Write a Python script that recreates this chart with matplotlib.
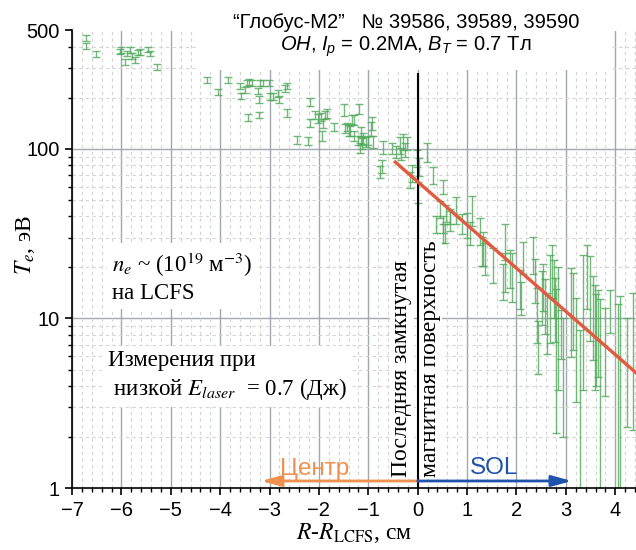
import matplotlib
matplotlib.use("Agg")
import matplotlib.pyplot as plt
from matplotlib.patches import Rectangle
from matplotlib.ticker import FixedLocator, NullFormatter, MultipleLocator

plt.rcParams["font.family"] = ["Liberation Sans", "DejaVu Sans"]
plt.rcParams["mathtext.fontset"] = "custom"
plt.rcParams["mathtext.rm"] = "Liberation Sans"
plt.rcParams["mathtext.it"] = "Liberation Sans:italic"

# Thomson scattering profile: R - R_LCFS (cm), Te (eV), error (eV)
r_cm = [-6.72, -6.72, -6.51,
        -6.03, -6.01, -5.93, -5.89, -5.83, -5.79, -5.72, -5.66, -5.62, -5.46, -5.42, -5.27,
        -4.27, -4.05, -3.85, -3.60, -3.57, -3.50, -3.45, -3.41, -3.36, -3.43, -3.21, -3.23,
        -3.21, -3.19, -3.13, -3.01, -2.99, -2.94, -2.82, -2.80, -2.69, -2.65, -2.64,
        -2.18, -2.45, -2.22, -2.18, -2.08, -2.01, -1.96, -1.91, -1.88, -1.93, -1.83, -1.70,
        -1.49, -1.47, -1.44, -1.38, -1.34, -1.30, -1.19, -1.20, -1.14, -1.17, -1.12, -1.04,
        -1.00, -1.14,
        -1.40, -1.30, -1.11, -0.94, -0.92, -0.91, -0.70, -0.73, -0.77, -0.53, -0.43, -0.36,
        -0.33, -0.29, -0.26, -0.22, -0.16, -0.12, -0.02, 0.03, 0.01, 0.18, 0.31, 0.51,
        0.45, 0.58, 0.65, 0.51, 0.38, 0.55, 0.78, 1.09, 0.99, 1.33, 1.36,
        0.52, 0.65, 0.89, 1.06, 1.26, 1.31,
        1.53, 1.73, 1.77, 1.77, 1.87, 1.91, 2.07, 2.10, 2.14, 2.34, 2.37, 2.41, 2.44, 2.51,
        2.54, 2.58, 2.61, 2.68, 2.71, 2.75, 2.78, 2.81, 2.84, 2.91, 2.94, 3.11, 3.14, 3.21,
        3.28, 3.34, 3.42, 3.48, 3.55, 3.58, 3.62, 3.65, 3.69, 3.79, 3.89, 4.05, 4.09, 4.23,
        4.36]
te_ev = [450, 405, 363,
         375, 384, 327, 367, 384, 354, 335, 372, 375, 387, 367, 306,
         255, 216, 255, 235, 205, 223, 245, 250, 246, 154, 159, 221,
         196, 246, 246, 246, 204, 205, 213, 196, 228, 235, 163,
         190, 113, 111, 143, 159, 152, 155, 142, 159, 119, 163, 135,
         171, 132, 135, 128, 150, 119, 173, 113, 113, 102, 108, 110,
         113, 126,
         129, 148, 116, 132, 142, 110, 103, 79, 73, 101, 96, 106,
         94, 110, 99, 108, 66, 72, 88, 79, 56, 96, 70, 60,
         44, 42, 40, 36, 36, 32, 44, 44, 36, 26.5, 23,
         32, 38, 36.5, 32, 33, 25.4,
         21.2, 16.9, 29, 19.3, 20.2, 18.5, 15.4, 13.5, 23.4, 24.2, 17.3, 11.2, 7.2, 14.1,
         16.1, 12.6, 10.2, 15.5, 20.2, 16.1, 12.3, 8.5, 12, 8.5, 6.0, 12.9, 12.5, 8.2,
         4.75, 13.8, 19.3, 15.4, 11.7, 9.8, 9.0, 9.6, 6.4, 7.5, 11.5, 6.0, 6.5, 6.2,
         8.2]
te_err = [18, 16, 14,
          14, 15, 13, 14, 15, 14, 13, 14, 15, 15, 14, 12,
          10, 9, 10, 9, 9, 9, 10, 10, 10, 7, 7, 9,
          9, 10, 10, 10, 10, 10, 10, 10, 10, 10, 8,
          10, 6, 6, 8, 9, 9, 9, 9, 9, 8, 10, 7,
          14, 8, 8, 8, 9, 8, 12, 7, 7, 7, 8, 7,
          7, 9,
          10, 10, 9, 12, 12, 9, 9, 7, 6, 8, 8, 12,
          8, 12, 9, 10, 7, 8, 10, 10, 8, 12, 8, 6,
          5, 5, 4, 4, 4, 4, 8, 9, 6, 6, 5,
          4, 5, 5, 5, 6, 5,
          5, 4, 7, 5, 5, 6, 4, 3, 5, 6, 5, 4, 2.5, 5,
          5, 4.5, 4, 8.3, 7, 6, 5, 6.4, 8.2, 2.7, 4, 7, 6, 5,
          3.8, 10, 8, 8, 6, 6, 5, 5.1, 6.6, 4, 3.3, 6.2, 7, 3.9,
          6]

# exponential fit in the SOL (straight line on log scale)
fit_r = [-0.48, 4.45]
fit_te = [85, 4.7]

x_ticks = [-7, -6, -5, -4, -3, -2, -1, 0, 1, 2, 3, 4]
y_ticks = [1, 10, 100, 500]

green = "#4fa85a"
orange = "#f0904e"
blue = "#1f52aa"
red = "#e25a40"

fig = plt.figure(figsize=(6.36, 5.5), dpi=100)
ax = fig.add_axes([72 / 636, 1 - 488 / 550, 1 - 72 / 636, (488 - 30.5) / 550])

ax.set_yscale("log")
ax.set_xlim(-7, 4.42)
ax.set_ylim(1, 500)

ax.xaxis.set_major_locator(FixedLocator(x_ticks))
ax.xaxis.set_minor_locator(MultipleLocator(0.2))
ax.yaxis.set_major_locator(FixedLocator(y_ticks))
ax.yaxis.set_major_formatter(plt.FuncFormatter(lambda v, p: f"{v:g}"))
ax.yaxis.set_minor_locator(FixedLocator([2, 3, 4, 5, 6, 7, 8, 9, 20, 30, 40, 50, 60, 70, 80, 90, 200, 300, 400]))
ax.yaxis.set_minor_formatter(NullFormatter())

ax.grid(axis="x", which="major", color="#a3a7b2", lw=1.0)
ax.grid(which="minor", color="#d4d4d4", lw=0.8, ls=(0, (3, 3)))
for v in [10, 100]:
    ax.axhline(v, color="#a3a7b2", lw=1.0, zorder=0.5)
ax.set_axisbelow(True)

for s in ["top", "right"]:
    ax.spines[s].set_visible(False)
for s in ["left", "bottom"]:
    ax.spines[s].set_linewidth(1.2)
ax.tick_params(which="major", direction="out", length=5, width=1.2, labelsize=14.5, pad=4)
ax.tick_params(which="minor", direction="out", length=3, width=1.0)

ax.errorbar(r_cm, te_ev, yerr=te_err, fmt="none", ecolor=green, elinewidth=1.0,
            capsize=3, capthick=1.0, alpha=0.8, zorder=2)

ax.plot(fit_r, fit_te, color=red, lw=2.4, zorder=5, solid_capstyle="butt")

# last closed flux surface
ax.vlines(0, 1, 282, color="black", lw=1.5, zorder=4)

# white panel under the header
ax.add_patch(Rectangle((-4.45, 292), 8.34, 300, facecolor="white", edgecolor="none", zorder=3))

fig.text(0.638, 0.96, "“Глобус-М2”   № 39586, 39589, 39590", ha="center", va="center", fontsize=14.5)
fig.text(0.638, 0.9145, "$OH$, $I_p$ = 0.2МА, $B_T$ = 0.7 Тл", ha="center", va="center", fontsize=14.5)

serif = ["Liberation Serif", "DejaVu Serif"]
box = dict(facecolor="white", edgecolor="none", pad=4)

ax.text(-6.19, 17.5, "$n_e$ ~ (10$^{19}$ м$^{-3}$)\nна LCFS", family=serif, math_fontfamily="stix",
        fontsize=16.5, ha="left", va="center", linespacing=1.25, bbox=box, zorder=3)
ax.text(-6.28, 4.6, "Измерения при\n низкой $E_{laser}$  = 0.7 (Дж)", family=serif, math_fontfamily="stix",
        fontsize=16.5, ha="left", va="center", linespacing=1.25, bbox=box, zorder=3)

ax.text(-0.32, 1.16, "Последняя замкнутая", family=serif, fontsize=17, rotation=90,
        ha="center", va="bottom", bbox=dict(facecolor="white", edgecolor="none", pad=1), zorder=3)
ax.text(0.25, 1.16, "магнитная поверхность", family=serif, fontsize=17, rotation=90,
        ha="center", va="bottom", bbox=dict(facecolor="white", edgecolor="none", pad=1), zorder=3)

ax.annotate("", xy=(-3.17, 1.1), xytext=(0, 1.1), zorder=6,
            arrowprops=dict(arrowstyle="-|>,head_length=0.8,head_width=0.22", color=orange,
                            lw=2, mutation_scale=15, shrinkA=0, shrinkB=0))
ax.annotate("", xy=(3.12, 1.1), xytext=(0, 1.1), zorder=6,
            arrowprops=dict(arrowstyle="-|>,head_length=0.8,head_width=0.22", color=blue,
                            lw=2, mutation_scale=15, shrinkA=0, shrinkB=0))
ax.text(-2.08, 1.19, "Центр", color=orange, fontsize=17.5, ha="center", va="baseline", zorder=6)
ax.text(1.54, 1.21, "SOL", color=blue, fontsize=17.5, ha="center", va="baseline", zorder=6)

fig.text(25 / 636, 1 - 245 / 550, "$T_e$, эВ", family=serif, math_fontfamily="stix", fontsize=17,
         rotation=90, ha="center", va="center")
fig.text(354 / 636, 1 - 539 / 550, "$R$-$R_{\\rm LCFS}$, см", family=serif, math_fontfamily="stix",
         fontsize=17, ha="center", va="baseline")

fig.savefig("out.png", dpi=100)
